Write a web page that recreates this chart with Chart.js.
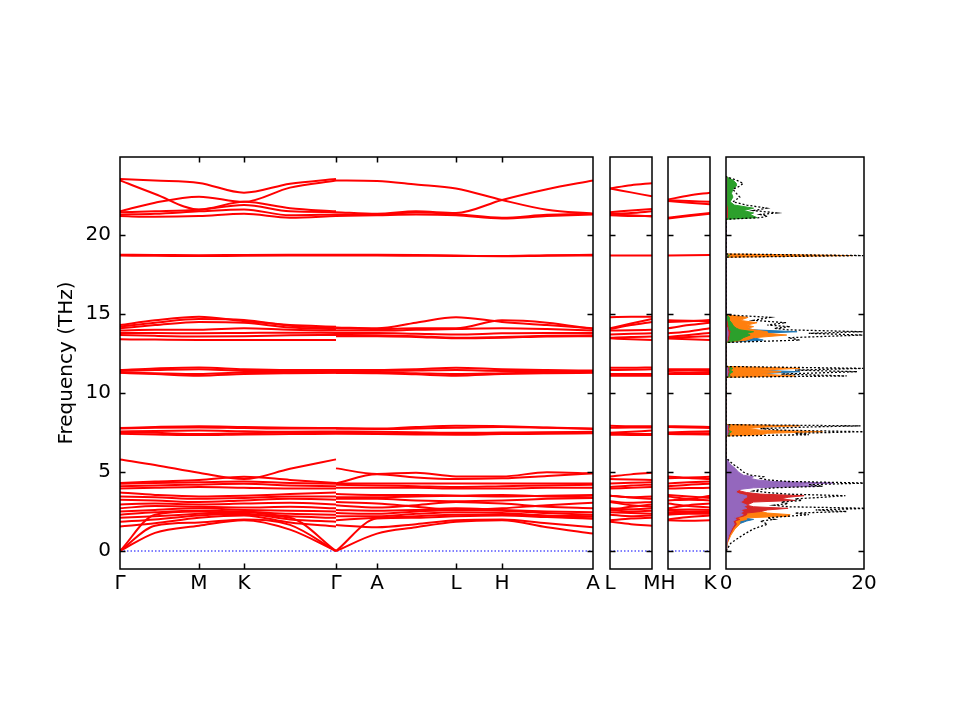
<!DOCTYPE html>
<html>
<head>
<meta charset="utf-8">
<script src="https://cdn.jsdelivr.net/npm/chart.js@4.4.1/dist/chart.umd.min.js"></script>
<style>
  html, body { margin: 0; padding: 0; background: #fff; }
  #wrap { position: relative; width: 960px; height: 720px; }
  #wrap canvas { position: absolute; left: 0; top: 0; }
</style>
</head>
<body>
<div id="wrap">
  <canvas id="bands" width="960" height="720"></canvas>
  <canvas id="lm" width="960" height="720"></canvas>
  <canvas id="hk" width="960" height="720"></canvas>
  <canvas id="dos" width="960" height="720"></canvas>
</div>
<script>
// frequency axis (THz)
const fMin = -1.14, fMax = 24.94;
const freqTicks = [0, 5, 10, 15, 20];
const zeroFreq = 0;

// k-path of the main panel
const pathTicks = [0, 0.79, 1.24, 2.16, 2.57, 3.36, 3.82, 4.73];
const pathLabels = ['Γ', 'M', 'K', 'Γ', 'A', 'L', 'H', 'A'];

// Γ - M - K - Γ  (nodes: Γ, mid, M, K, mid, Γ)
const kGMKG = [0, 0.35, 0.79, 1.24, 1.70, 2.16];
const bandsGMKG = [
  [23.55, 23.45, 23.30, 22.68, 23.25, 23.55],
  [23.45, 22.60, 21.62, 22.10, 21.70, 21.50],
  [21.50, 22.05, 22.43, 22.10, 23.00, 23.45],
  [21.45, 21.50, 21.60, 21.90, 21.50, 21.45],
  [21.30, 21.35, 21.50, 21.62, 21.25, 21.30],
  [21.20, 21.15, 21.20, 21.35, 21.10, 21.20],
  [18.75, 18.74, 18.72, 18.74, 18.75, 18.75],
  [18.70, 18.69, 18.67, 18.69, 18.70, 18.70],
  [14.30, 14.60, 14.83, 14.55, 14.30, 14.20],
  [14.20, 14.45, 14.68, 14.62, 14.25, 14.10],
  [14.10, 14.30, 14.50, 14.45, 14.15, 14.05],
  [13.95, 14.00, 14.00, 14.10, 14.00, 13.95],
  [13.80, 13.80, 13.78, 13.80, 13.82, 13.80],
  [13.68, 13.62, 13.58, 13.60, 13.65, 13.68],
  [13.40, 13.38, 13.36, 13.36, 13.36, 13.36],
  [11.45, 11.55, 11.62, 11.50, 11.45, 11.45],
  [11.40, 11.45, 11.50, 11.40, 11.40, 11.40],
  [11.30, 11.25, 11.20, 11.30, 11.30, 11.30],
  [11.28, 11.20, 11.10, 11.20, 11.25, 11.28],
  [7.78, 7.85, 7.90, 7.85, 7.80, 7.78],
  [7.75, 7.80, 7.82, 7.78, 7.75, 7.75],
  [7.56, 7.60, 7.62, 7.58, 7.55, 7.56],
  [7.52, 7.48, 7.40, 7.45, 7.50, 7.52],
  [7.42, 7.38, 7.34, 7.38, 7.40, 7.42],
  [5.80, 5.45, 4.95, 4.55, 5.20, 5.80],
  [4.30, 4.40, 4.50, 4.70, 4.50, 4.30],
  [4.25, 4.30, 4.35, 4.40, 4.30, 4.25],
  [4.10, 4.15, 4.20, 4.25, 4.15, 4.10],
  [3.95, 4.00, 4.05, 4.00, 3.95, 3.95],
  [3.70, 3.55, 3.45, 3.50, 3.60, 3.70],
  [3.45, 3.40, 3.30, 3.35, 3.45, 3.45],
  [3.25, 3.20, 3.10, 3.20, 3.30, 3.25],
  [2.95, 3.00, 2.95, 3.00, 3.05, 2.95],
  [2.70, 2.85, 2.80, 2.75, 2.80, 2.70],
  [2.50, 2.60, 2.70, 2.60, 2.55, 2.50],
  [2.30, 2.45, 2.55, 2.50, 2.35, 2.30],
  [2.10, 2.20, 2.35, 2.45, 2.20, 2.10],
  [1.85, 2.00, 2.25, 2.35, 2.00, 1.85],
  [1.55, 1.75, 2.10, 2.25, 1.80, 1.55],
  [0, 1.15, 1.60, 1.95, 1.35, 0],
  [0, 1.60, 1.80, 2.00, 1.65, 0],
  [0, 2.30, 2.50, 2.30, 2.10, 0]
];

// Γ - A - L - H - A  (nodes: Γ, A, mid, L, H, mid, A)
const kGALHA = [2.16, 2.57, 2.96, 3.36, 3.82, 4.27, 4.73];
const bandsGALHA = [
  [23.45, 23.42, 23.20, 22.95, 22.22, 21.60, 21.35],
  [21.45, 21.35, 21.50, 21.40, 22.22, 22.90, 23.45],
  [21.30, 21.30, 21.42, 21.32, 21.10, 21.28, 21.35],
  [21.20, 21.25, 21.30, 21.25, 21.05, 21.20, 21.30],
  [18.75, 18.75, 18.74, 18.70, 18.67, 18.72, 18.75],
  [18.70, 18.70, 18.69, 18.68, 18.66, 18.69, 18.70],
  [14.15, 14.10, 14.45, 14.80, 14.50, 14.30, 14.10],
  [14.10, 14.05, 14.10, 14.10, 14.60, 14.45, 14.05],
  [13.95, 13.95, 14.00, 14.05, 14.10, 14.05, 13.95],
  [13.80, 13.80, 13.75, 13.70, 13.78, 13.80, 13.80],
  [13.68, 13.66, 13.60, 13.50, 13.55, 13.62, 13.65],
  [13.60, 13.60, 13.55, 13.46, 13.50, 13.58, 13.60],
  [11.45, 11.45, 11.50, 11.60, 11.50, 11.45, 11.42],
  [11.40, 11.40, 11.42, 11.45, 11.40, 11.40, 11.40],
  [11.30, 11.30, 11.25, 11.20, 11.25, 11.30, 11.32],
  [11.27, 11.25, 11.18, 11.10, 11.20, 11.25, 11.28],
  [7.78, 7.75, 7.85, 7.92, 7.90, 7.82, 7.75],
  [7.74, 7.72, 7.75, 7.80, 7.85, 7.80, 7.73],
  [7.56, 7.55, 7.52, 7.48, 7.50, 7.52, 7.55],
  [7.50, 7.45, 7.42, 7.40, 7.45, 7.48, 7.50],
  [7.42, 7.40, 7.38, 7.36, 7.40, 7.42, 7.45],
  [5.23, 4.88, 4.95, 4.72, 4.72, 4.98, 4.92],
  [4.28, 4.85, 4.65, 4.55, 4.60, 4.75, 4.92],
  [4.28, 4.28, 4.28, 4.28, 4.28, 4.28, 4.28],
  [4.20, 4.15, 4.10, 4.05, 4.10, 4.15, 4.20],
  [4.00, 4.00, 4.00, 3.95, 3.95, 4.00, 4.00],
  [3.60, 3.55, 3.55, 3.50, 3.45, 3.50, 3.55],
  [3.40, 3.40, 3.45, 3.50, 3.55, 3.45, 3.40],
  [3.30, 3.30, 3.20, 3.15, 3.20, 3.30, 3.35],
  [3.10, 3.00, 2.80, 2.60, 2.70, 2.90, 3.05],
  [2.90, 2.75, 2.90, 3.10, 3.00, 2.80, 2.70],
  [2.60, 2.55, 2.60, 2.70, 2.60, 2.50, 2.45],
  [2.40, 2.35, 2.50, 2.60, 2.55, 2.40, 2.30],
  [2.20, 2.20, 2.35, 2.45, 2.40, 2.25, 2.20],
  [1.95, 2.10, 2.20, 2.30, 2.30, 2.20, 2.05],
  [1.65, 1.50, 1.70, 1.95, 2.00, 1.75, 1.50],
  [0, 1.10, 1.50, 1.85, 1.95, 1.50, 1.10],
  [0, 2.05, 2.10, 2.20, 2.25, 2.15, 2.05]
];

// L - M panel (nodes: L, mid, M)
const kLM = [0, 0.21, 0.42];
const labelsLM = ['L', 'M'];
const bandsLM = [
  [22.95, 23.15, 23.28], [22.95, 22.70, 22.45], [21.45, 21.55, 21.65],
  [21.35, 21.40, 21.50], [21.25, 21.20, 21.20], [21.30, 21.25, 21.18],
  [18.70, 18.70, 18.70],
  [14.80, 14.82, 14.83], [14.10, 14.40, 14.68], [14.05, 14.30, 14.50],
  [13.95, 13.98, 14.00], [13.70, 13.75, 13.78], [13.50, 13.55, 13.57], [13.46, 13.40, 13.36],
  [11.60, 11.60, 11.62], [11.45, 11.48, 11.50], [11.20, 11.20, 11.20], [11.10, 11.10, 11.10],
  [7.92, 7.90, 7.90], [7.80, 7.82, 7.82], [7.48, 7.55, 7.62], [7.40, 7.40, 7.40], [7.36, 7.35, 7.34],
  [4.72, 4.85, 4.95], [4.55, 4.52, 4.50], [4.28, 4.32, 4.35], [4.05, 4.15, 4.20],
  [3.95, 4.00, 4.05], [3.50, 3.40, 3.45], [3.50, 3.38, 3.30], [3.15, 3.05, 3.10],
  [2.60, 2.80, 2.95], [3.10, 2.90, 2.80], [2.70, 2.65, 2.70], [2.60, 2.50, 2.55],
  [2.45, 2.40, 2.35], [2.30, 2.20, 2.25], [1.95, 2.05, 2.10], [1.85, 1.70, 1.60]
];

// H - K panel (nodes: H, mid, K)
const kHK = [0, 0.21, 0.42];
const labelsHK = ['H', 'K'];
const bandsHK = [
  [22.25, 22.50, 22.68], [22.20, 22.15, 22.10], [22.15, 22.05, 21.95],
  [21.10, 21.25, 21.40], [21.05, 21.20, 21.35],
  [18.70, 18.72, 18.74],
  [14.60, 14.58, 14.55], [14.50, 14.55, 14.62], [14.10, 14.30, 14.45],
  [13.78, 13.90, 14.10], [13.55, 13.68, 13.80], [13.50, 13.55, 13.60], [13.45, 13.40, 13.36],
  [11.50, 11.50, 11.50], [11.40, 11.42, 11.40], [11.25, 11.28, 11.30], [11.20, 11.20, 11.20],
  [7.90, 7.88, 7.85], [7.85, 7.82, 7.78], [7.50, 7.55, 7.58], [7.45, 7.45, 7.45], [7.40, 7.39, 7.38],
  [4.72, 4.62, 4.55], [4.60, 4.65, 4.70], [4.28, 4.35, 4.40], [4.10, 4.20, 4.25],
  [3.95, 3.98, 4.00], [3.45, 3.30, 3.50], [3.55, 3.45, 3.35], [3.20, 3.25, 3.20],
  [2.70, 2.90, 3.00], [3.00, 2.85, 2.75], [2.60, 2.62, 2.60], [2.55, 2.50, 2.50],
  [2.40, 2.42, 2.45], [2.30, 2.35, 2.35], [2.00, 2.15, 2.25], [1.95, 1.92, 1.95]
];

// phonon DOS (total and five partial contributions)
const dosFreq = [
  0, 0.5, 1.0, 1.4, 1.7, 1.9, 2.0, 2.1, 2.2, 2.3, 2.4, 2.5, 2.6, 2.7, 2.8, 2.9, 3.0, 3.1, 3.2, 3.3,
  3.4, 3.5, 3.6, 3.7, 3.8, 3.9, 4.0, 4.1, 4.2, 4.3, 4.4, 4.5, 4.6, 4.7, 4.8, 5.0, 5.2, 5.5, 5.9,
  7.28, 7.36, 7.45, 7.55, 7.65, 7.75, 7.85, 7.92, 8.0,
  11.0, 11.08, 11.2, 11.35, 11.45, 11.56, 11.68,
  13.2, 13.35, 13.5, 13.67, 13.78, 13.88, 14.0, 14.1, 14.2, 14.3, 14.45, 14.6, 14.79, 14.95,
  18.6, 18.7, 18.8,
  21.0, 21.1, 21.2, 21.3, 21.4, 21.55, 21.7, 21.9, 22.1, 22.4, 22.64, 22.9, 23.1, 23.27, 23.48, 23.7];
const dosTotal = [
  0, 0.7, 2.4, 4, 6, 5, 7, 6, 9, 12, 10, 17.5, 13, 21, 9, 7, 9, 8, 11, 10,
  14, 17.3, 9, 6, 4, 5, 7, 14, 12, 20.5, 9, 6, 5, 5.4, 3.5, 2.5, 2, 1, 0,
  0, 12, 10, 19.9, 8, 5, 12, 19.5, 0,
  0, 17.5, 8, 19, 10, 19.9, 0,
  0, 10.7, 9, 19.8, 12, 19.8, 9, 7, 9.3, 6, 8.7, 4, 6.4, 0,
  0, 19.9, 0,
  0, 5, 6, 5, 7.3, 4, 5.9, 3, 1, 2, 1.5, 1, 2, 2.5, 1.5, 0];
const dosC0 = [
  0, 0.15, 0.5, 1, 1.8, 3, 4, 2.5, 3, 4, 3, 3, 4.5, 3.5, 2, 2, 2.5, 2, 3, 2.5,
  2.5, 2.5, 1.5, 1.2, 1, 1, 1.2, 1.5, 1.5, 2, 1, 0.8, 0.6, 0.6, 0.5, 0.3, 0.2, 0.1, 0,
  0, 2, 3, 4, 2, 2, 3, 5, 0,
  0, 3, 4, 10.7, 4, 3, 0,
  0, 5.4, 4, 6, 5, 10.3, 4, 3, 2, 1.5, 1, 0.5, 0.5, 0,
  0, 3, 0,
  0, 0.8, 1, 1, 1, 0.8, 0.6, 0.4, 0.3, 0.3, 0.2, 0.3, 0.3, 0.3, 0.2, 0];
const dosC1 = [
  0, 0.2, 0.7, 1.3, 2, 2, 3, 3, 9, 9.3, 6, 5, 4, 3, 2.5, 2, 2.5, 2, 3, 2.5,
  3, 3, 2, 1.5, 1, 1.2, 1.5, 2, 2, 2.5, 1.5, 1, 0.8, 0.8, 0.5, 0.4, 0.3, 0.1, 0,
  0, 5, 6, 14, 5, 3, 6, 10.7, 0,
  0, 10, 5, 8, 5, 10.7, 0,
  0, 3, 4, 8.8, 6, 6, 4, 3, 4, 3, 4.5, 2, 3.2, 0,
  0, 18.4, 0,
  0, 1.5, 1.2, 1.5, 2, 1, 1.2, 0.6, 0.5, 0.6, 0.4, 0.6, 0.6, 0.8, 0.6, 0];
const dosC2 = [
  0, 0.1, 0.3, 0.6, 1, 1, 1.2, 1.2, 1.5, 1.5, 1.5, 1.8, 1.5, 1.5, 2, 2.5, 2, 1.5, 2, 1.5,
  1.5, 1.5, 1, 0.8, 0.8, 1, 1, 1.2, 1, 1.2, 0.8, 0.6, 0.5, 0.5, 0.4, 0.3, 0.2, 0.1, 0,
  0, 0.5, 0.5, 0.8, 0.4, 0.4, 0.5, 0.6, 0,
  0, 0.6, 0.5, 1, 0.6, 1, 0,
  0, 2, 2.5, 3.5, 3, 4, 2, 1.5, 1.2, 1, 0.8, 0.5, 0.5, 0,
  0, 0.5, 0,
  0, 4.5, 4, 3.5, 4, 2.5, 4, 1.2, 0.6, 1, 0.8, 1, 1.5, 1.5, 1, 0];
const dosC3 = [
  0, 0.1, 0.5, 1, 1.5, 1.3, 2, 1.5, 2.5, 3, 3, 5, 6, 9, 4, 3, 3.5, 4, 10, 8,
  9, 11.3, 5, 3, 2, 2, 2.5, 3, 2.5, 3, 2, 1.5, 1, 1, 0.8, 0.5, 0.3, 0.1, 0,
  0, 0.3, 0.3, 0.5, 0.3, 0.3, 0.4, 0.5, 0,
  0, 0.3, 0.3, 0.5, 0.3, 0.5, 0,
  0, 0.4, 0.4, 0.5, 0.5, 0.6, 0.4, 0.3, 0.3, 0.2, 0.2, 0.1, 0.1, 0,
  0, 0.2, 0,
  0, 0.2, 0.2, 0.2, 0.2, 0.2, 0.2, 0.1, 0.1, 0.1, 0.1, 0.1, 0.1, 0.1, 0.1, 0];
const dosC4 = [
  0, 0.1, 0.4, 0.8, 1.2, 1, 1.5, 1.2, 2, 2.5, 2, 2.5, 2, 3, 2.5, 3, 2.5, 2, 2.5, 2.5,
  3, 3, 2, 1.5, 1.5, 2, 4, 13, 10, 15.5, 7, 4.5, 3.5, 4, 2.5, 1.8, 1.4, 0.6, 0,
  0, 0.2, 0.2, 0.3, 0.2, 0.2, 0.2, 0.3, 0,
  0, 0.2, 0.2, 0.3, 0.2, 0.3, 0,
  0, 0.2, 0.2, 0.3, 0.3, 0.3, 0.2, 0.2, 0.1, 0.1, 0.1, 0.1, 0.1, 0,
  0, 0.1, 0,
  0, 0.1, 0.1, 0.1, 0.1, 0.1, 0.1, 0, 0, 0, 0, 0, 0, 0, 0, 0];
const dosMax = 20;

const font = { family: 'DejaVu Sans', size: 20 };

// box + inward ticks like matplotlib
const framePlugin = {
  id: 'frame',
  afterDraw(chart, args, opts) {
    const { ctx, chartArea: a, scales } = chart;
    const len = 5.5;
    ctx.save();
    ctx.strokeStyle = '#000';
    ctx.lineWidth = 1.5;
    ctx.beginPath();
    (opts.yTicks || []).forEach(v => {
      const y = Math.round(scales.y.getPixelForValue(v)) + 0.5;
      ctx.moveTo(a.left, y); ctx.lineTo(a.left + len, y);
      ctx.moveTo(a.right, y); ctx.lineTo(a.right - len, y);
    });
    (opts.xTicks || []).forEach(v => {
      const x = Math.round(scales.x.getPixelForValue(v)) + 0.5;
      ctx.moveTo(x, a.top); ctx.lineTo(x, a.top + len);
      ctx.moveTo(x, a.bottom); ctx.lineTo(x, a.bottom - len);
    });
    ctx.stroke();
    ctx.strokeRect(a.left, a.top, a.right - a.left, a.bottom - a.top);
    ctx.restore();
  }
};

function bandDatasets(k, bands) {
  return bands.map(row => ({
    data: row.map((f, i) => ({ x: k[i], y: f })),
    borderColor: '#ff0000',
    borderWidth: 2,
    pointRadius: 0,
    cubicInterpolationMode: 'monotone',
    fill: false
  }));
}

function zeroLine(k0, k1) {
  return {
    data: [{ x: k0, y: zeroFreq }, { x: k1, y: zeroFreq }],
    borderColor: '#0000ff',
    borderWidth: 1.2,
    borderDash: [1.5, 2],
    pointRadius: 0,
    fill: false
  };
}

function xAxis(min, max, pos, names) {
  return {
    type: 'linear', min, max,
    afterBuildTicks: s => { s.ticks = pos.map(v => ({ value: v })); },
    afterFit: s => { s.height = 40; },
    grid: { display: false, drawTicks: false },
    border: { display: false },
    ticks: { autoSkip: false, maxRotation: 0, padding: 3, color: '#000', font,
      callback: (v, i) => names[i] }
  };
}

function bandPanel(id, left, right, xScale, datasets, showY, xTicks) {
  const y = {
    type: 'linear', min: fMin, max: fMax, display: showY,
    afterBuildTicks: s => { s.ticks = freqTicks.map(v => ({ value: v })); },
    grid: { display: false, drawTicks: false },
    border: { display: false },
    ticks: { padding: 9, color: '#000', font }
  };
  if (showY) {
    y.afterFit = s => { s.width = left; };
    y.title = { display: true, text: 'Frequency (THz)', color: '#000', font, padding: { top: 55, bottom: 0 } };
  }
  return new Chart(document.getElementById(id), {
    type: 'line',
    data: { datasets },
    options: {
      responsive: false, animation: false, devicePixelRatio: 1,
      layout: { padding: { left: showY ? 0 : left, right: 960 - right, top: 157, bottom: 111 } },
      scales: { x: xScale, y },
      plugins: { legend: { display: false }, tooltip: { enabled: false },
        frame: { yTicks: freqTicks, xTicks: xTicks } }
    },
    plugins: [framePlugin]
  });
}

const last = pathTicks[pathTicks.length - 1];
bandPanel('bands', 120, 593,
  xAxis(0, last, pathTicks, pathLabels),
  [...bandDatasets(kGMKG, bandsGMKG), ...bandDatasets(kGALHA, bandsGALHA), zeroLine(0, last)],
  true, pathTicks.slice(1, -1));

bandPanel('lm', 610, 652,
  xAxis(kLM[0], kLM[2], [kLM[0], kLM[2]], labelsLM),
  [...bandDatasets(kLM, bandsLM), zeroLine(kLM[0], kLM[2])],
  false, []);

bandPanel('hk', 668, 710,
  xAxis(kHK[0], kHK[2], [kHK[0], kHK[2]], labelsHK),
  [...bandDatasets(kHK, bandsHK), zeroLine(kHK[0], kHK[2])],
  false, []);

// DOS panel: horizontal density vs vertical frequency
function dosSet(vals, color, extra) {
  return Object.assign({
    data: vals.map((v, i) => ({ x: v, y: dosFreq[i] })),
    borderColor: color,
    backgroundColor: color,
    borderWidth: 1,
    pointRadius: 0,
    tension: 0,
    fill: 'origin'
  }, extra || {});
}

new Chart(document.getElementById('dos'), {
  type: 'line',
  data: {
    datasets: [
      dosSet(dosTotal, '#000', { fill: false, borderDash: [2, 2], borderWidth: 1.3 }),
      dosSet(dosC4, '#9467bd'),
      dosSet(dosC3, '#d62728'),
      dosSet(dosC2, '#2ca02c'),
      dosSet(dosC1, '#ff7f0e'),
      dosSet(dosC0, '#1f77b4')
    ]
  },
  options: {
    responsive: false, animation: false, devicePixelRatio: 1,
    indexAxis: 'y',
    layout: { padding: { left: 726, right: 96, top: 157, bottom: 111 } },
    scales: {
      x: xAxis(0, dosMax, [0, dosMax], ['0', String(dosMax)]),
      y: { type: 'linear', min: fMin, max: fMax, display: false }
    },
    plugins: { legend: { display: false }, tooltip: { enabled: false },
      frame: { yTicks: freqTicks, xTicks: [] } }
  },
  plugins: [framePlugin]
});
</script>
</body>
</html>
